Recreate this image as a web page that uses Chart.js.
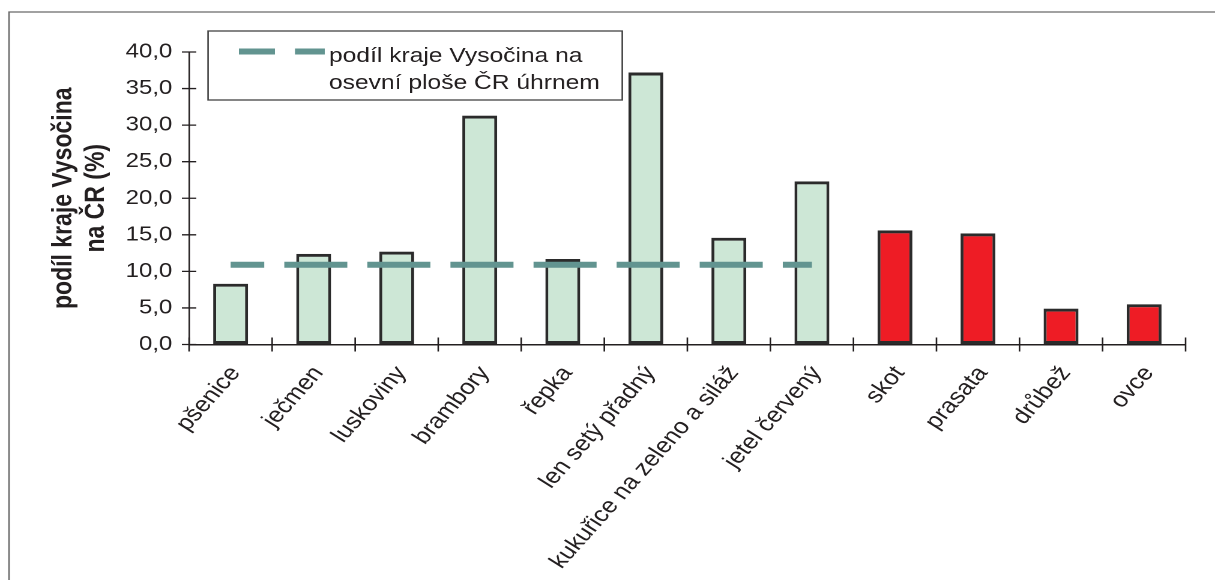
<!DOCTYPE html>
<html lang="cs">
<head>
<meta charset="utf-8">
<title>Podíl kraje Vysočina na ČR</title>
<script src="https://cdn.jsdelivr.net/npm/chart.js@4/dist/chart.umd.min.js"></script>
<style>
  html, body { margin: 0; padding: 0; background: #fff; }
  /* the original figure is stretched sideways, so the chart is drawn narrow and widened */
  #wrap {
    position: absolute; left: 0; top: 0;
    width: 1012px; height: 580px;
    transform: scaleX(1.2006); transform-origin: 0 0;
  }
</style>
</head>
<body>
<div id="wrap"><canvas id="chart"></canvas></div>
<script>
const categories = ["pšenice", "ječmen", "luskoviny", "brambory", "řepka", "len setý přadný",
  "kukuřice na zeleno a siláž", "jetel červený", "skot", "prasata", "drůbež", "ovce"];
const livestock = ["skot", "prasata", "drůbež", "ovce"];
const shares = [8.3, 12.4, 12.7, 31.3, 11.7, 37.2, 14.6, 22.3, 15.6, 15.2, 4.9, 5.5];
const sownAreaShare = [10.9, 10.9, 10.9, 10.9, 10.9, 10.9, 10.9, 10.9, null, null, null, null];
const yTicks = [0, 5, 10, 15, 20, 25, 30, 35, 40];
const legendLines = ["podíl kraje Vysočina na", "osevní ploše ČR úhrnem"];
const axisTitle = ["podíl kraje Vysočina", "na ČR (%)"];

const FONT = "'Liberation Sans', Arial, sans-serif";
const INK = "#231f20";
const TEAL = "#629490";
const GREEN = "#cde7d6";
const RED = "#ee1c25";

/* PLUGINS */
const frame = {
  id: "frame",
  beforeDraw(chart) {
    const { ctx, width, height } = chart;
    ctx.save();
    ctx.fillStyle = "#fff";
    ctx.fillRect(0, 0, width, height);
    ctx.strokeStyle = "#6a6a6a";
    ctx.lineWidth = 1.3;
    ctx.beginPath();
    ctx.moveTo(7.5, height);
    ctx.lineTo(7.5, 12);
    ctx.lineTo(width, 12);
    ctx.stroke();
    ctx.restore();
  }
};

// tick marks that cross the axis lines, like the original
const crossTicks = {
  id: "crossTicks",
  afterDraw(chart) {
    const { ctx, chartArea: a, scales: { x, y } } = chart;
    ctx.save();
    ctx.strokeStyle = INK;
    ctx.lineWidth = 1.3;
    ctx.beginPath();
    y.ticks.forEach((t, i) => {
      const py = y.getPixelForTick(i);
      ctx.moveTo(a.left - 6, py);
      ctx.lineTo(a.left + 6, py);
    });
    for (let i = 0; i <= categories.length; i++) {
      const px = x.getPixelForValue(i - 0.5);
      ctx.moveTo(px, a.bottom - 7);
      ctx.lineTo(px, a.bottom + 7);
    }
    ctx.stroke();
    ctx.restore();
  }
};

const boxLegend = {
  id: "boxLegend",
  afterDraw(chart) {
    const { ctx } = chart;
    const ds = chart.data.datasets[0];
    ctx.save();
    ctx.fillStyle = "#fff";
    ctx.fillRect(173.3, 31, 345, 69);
    ctx.strokeStyle = "#444";
    ctx.lineWidth = 1.3;
    ctx.strokeRect(173.3, 31, 345, 69);

    ctx.strokeStyle = ds.borderColor;
    ctx.lineWidth = ds.borderWidth;
    ctx.setLineDash([30, 16.7]);
    ctx.beginPath();
    ctx.moveTo(199, 51.5);
    ctx.lineTo(270.5, 51.5);
    ctx.stroke();
    ctx.setLineDash([]);

    ctx.fillStyle = INK;
    ctx.font = `20.5px ${FONT}`;
    ctx.textBaseline = "alphabetic";
    ctx.fillText(legendLines[0], 274, 62);
    ctx.fillText(legendLines[1], 274, 89);
    ctx.restore();
  }
};

/* CHART */
new Chart(document.getElementById("chart"), {
  type: "bar",
  data: {
    labels: categories,
    datasets: [
      {
        type: "line",
        label: legendLines.join(" "),
        data: sownAreaShare,
        borderColor: TEAL,
        borderWidth: 6,
        borderDash: [52.5, 16.7],
        borderDashOffset: 24.5,
        borderCapStyle: "butt",
        pointRadius: 0,
        fill: false,
        spanGaps: false,
        order: 1
      },
      {
        label: "podíl kraje Vysočina na ČR (%)",
        data: shares,
        backgroundColor: ctx => livestock.includes(categories[ctx.dataIndex]) ? RED : GREEN,
        borderColor: "#2b2b2b",
        borderWidth: { top: 3, bottom: 3, left: 2.5, right: 2.5 },
        borderSkipped: false,
        barPercentage: 0.42,
        categoryPercentage: 1,
        order: 2
      }
    ]
  },
  options: {
    responsive: true,
    maintainAspectRatio: false,
    devicePixelRatio: 2,
    animation: false,
    events: [],
    layout: { padding: { top: 52, right: 24.5, bottom: 0, left: 0 } },
    plugins: { legend: { display: false }, tooltip: { enabled: false } },
    scales: {
      x: {
        offset: true,
        grid: { display: true, drawOnChartArea: false, drawTicks: false, offset: true },
        border: { display: true, color: INK, width: 1.5 },
        ticks: {
          autoSkip: false,
          minRotation: 53,
          maxRotation: 53,
          padding: 17,
          labelOffset: 4,
          color: INK,
          font: { family: FONT, size: 21.5 }
        },
        afterFit: s => { s.height = 235.5; }
      },
      y: {
        min: yTicks[0],
        max: yTicks[yTicks.length - 1],
        afterBuildTicks: s => { s.ticks = yTicks.map(v => ({ value: v })); },
        grid: { display: true, drawOnChartArea: false, drawTicks: false },
        border: { display: true, color: INK, width: 1.25 },
        ticks: {
          padding: 14,
          color: INK,
          font: { family: FONT, size: 20 },
          callback: v => v.toFixed(1).replace(".", ",")
        },
        title: {
          display: true,
          text: axisTitle,
          color: INK,
          font: { family: FONT, size: 23, weight: "bold", lineHeight: 1.16 },
          padding: { top: 40, bottom: 0 }
        },
        afterFit: s => { s.width = 157.5; }
      }
    }
  },
  plugins: [frame, crossTicks, boxLegend]
});
</script>
</body>
</html>
